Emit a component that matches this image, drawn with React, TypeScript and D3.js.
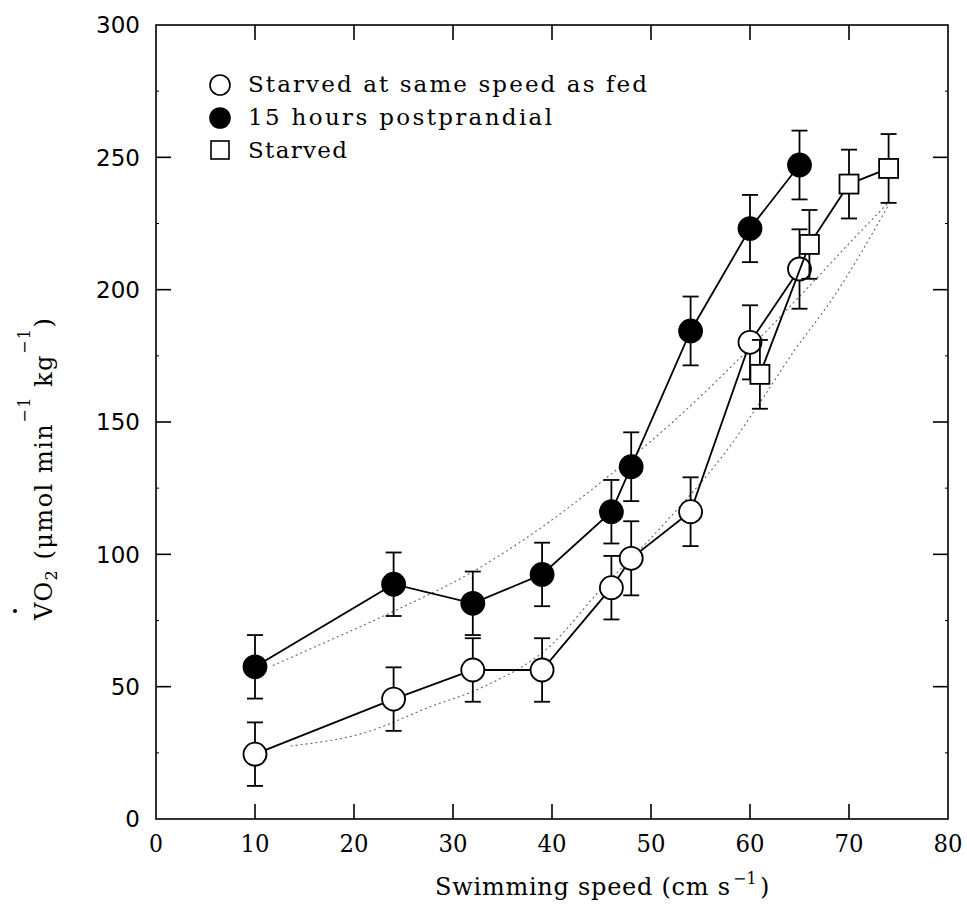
import React from "react";
import * as d3 from "d3";

// ---- data ----
const speedsOpen = [10, 24, 32, 39, 46, 48, 54, 60, 65];
const valuesOpen = [24.5, 45.3, 56.3, 56.3, 87.4, 98.5, 116.1, 180.1, 207.8];
const errOpen = [12, 12, 12, 12, 12, 14, 13, 14, 15];

const speedsFed = [10, 24, 32, 39, 46, 48, 54, 60, 65];
const valuesFed = [57.5, 88.7, 81.5, 92.4, 116.1, 133.1, 184.4, 223.1, 247.1];
const errFed = [12, 12, 12, 12, 12, 13, 13, 12.7, 13];

const speedsStarved = [61, 66, 70, 74];
const valuesStarved = [168, 217.1, 239.9, 245.8];
const errStarved = [13, 13, 13, 13];

const fitFedX = [11.8, 17.6, 24.3, 31.7, 37.1, 46.1, 52.2, 60, 65.4, 69.4, 74];
const fitFedY = [58, 67.6, 79, 92.8, 105.4, 130.7, 150, 178, 199, 215, 233];

const fitStarvedX = [13.6, 20.9, 27.7, 33.1, 40, 44.5, 51.2, 58, 61.3, 64.3, 68.4, 74];
const fitStarvedY = [27.6, 32.4, 42.4, 50, 66, 85, 111, 141, 159, 176, 197, 232];

const xTicks = [0, 10, 20, 30, 40, 50, 60, 70, 80];
const yTicks = [0, 50, 100, 150, 200, 250, 300];
const yMinorTicks = [25, 75, 125, 175, 225, 275];

const legendLabels = ["Starved at same speed as fed", "15 hours postprandial", "Starved"];

export default function App() {
  const x = d3.scaleLinear().domain([0, 80]).range([156, 948]);
  const y = d3.scaleLinear().domain([0, 300]).range([819, 25]);
  const [x0, x1] = x.range();
  const [y0, y1] = y.range();

  const line = d3.line<number[]>().x((d) => x(d[0])).y((d) => y(d[1]));
  const fitLine = d3
    .line<number[]>()
    .x((d) => x(d[0]))
    .y((d) => y(d[1]))
    .curve(d3.curveMonotoneX);

  const zip = (a: number[], b: number[]) => a.map((v, i) => [v, b[i]]);

  const sw = 1.8;
  const capW = 8;
  const r = 11.5;
  const sq = 19;

  const errorBars = (xs: number[], vs: number[], es: number[]) =>
    xs.map((xv, i) => {
      const cx = x(xv);
      const top = y(vs[i] + es[i]);
      const bot = y(vs[i] - es[i]);
      return (
        <g key={"e" + i} stroke="#000" strokeWidth={sw}>
          <line x1={cx} x2={cx} y1={top} y2={bot} />
          <line x1={cx - capW} x2={cx + capW} y1={top} y2={top} />
          <line x1={cx - capW} x2={cx + capW} y1={bot} y2={bot} />
        </g>
      );
    });

  const serif = "'DejaVu Serif', serif";
  const sans = "'DejaVu Sans', sans-serif";

  return (
    <svg
      width={967}
      height={915}
      style={{ position: "absolute", left: 0, top: 0, background: "#fff" }}
    >
      <rect x={0} y={0} width={967} height={915} fill="#fff" />

      {/* fitted dotted curves */}
      <path
        d={fitLine(zip(fitFedX, fitFedY)) || ""}
        fill="none"
        stroke="#666"
        strokeWidth={1.1}
        strokeDasharray="2,3"
      />
      <path
        d={fitLine(zip(fitStarvedX, fitStarvedY)) || ""}
        fill="none"
        stroke="#666"
        strokeWidth={1.1}
        strokeDasharray="2,3"
      />

      {/* frame */}
      <rect x={x0} y={y1} width={x1 - x0} height={y0 - y1} fill="none" stroke="#000" strokeWidth={1.6} />

      {/* x ticks */}
      {xTicks.slice(1, -1).map((t) => (
        <g key={"xt" + t} stroke="#000" strokeWidth={1.6}>
          <line x1={x(t)} x2={x(t)} y1={y0} y2={y0 - 15} />
          <line x1={x(t)} x2={x(t)} y1={y1} y2={y1 + 15} />
        </g>
      ))}
      {xTicks.map((t) => (
        <text
          key={"xl" + t}
          x={x(t)}
          y={852}
          textAnchor="middle"
          fontFamily={serif}
          fontSize={24}
          textLength={t === 0 ? 14 : 29}
          lengthAdjust="spacingAndGlyphs"
          fill="#000"
        >
          {t}
        </text>
      ))}

      {/* y ticks */}
      {yTicks.slice(1, -1).map((t) => (
        <g key={"yt" + t} stroke="#000" strokeWidth={1.6}>
          <line x1={x0} x2={x0 + 15} y1={y(t)} y2={y(t)} />
          <line x1={x1} x2={x1 - 15} y1={y(t)} y2={y(t)} />
        </g>
      ))}
      {yMinorTicks.map((t) => (
        <g key={"ym" + t} stroke="#000" strokeWidth={1}>
          <line x1={x0} x2={x0 + 3} y1={y(t)} y2={y(t)} />
          <line x1={x1} x2={x1 - 3} y1={y(t)} y2={y(t)} />
        </g>
      ))}
      {yTicks.map((t) => (
        <text
          key={"yl" + t}
          x={140}
          y={y(t)}
          dy="0.36em"
          textAnchor="end"
          fontFamily={sans}
          fontSize={23}
          fill="#000"
        >
          {t}
        </text>
      ))}

      {/* series: starved at same speed as fed (open circles) */}
      <path d={line(zip(speedsOpen, valuesOpen)) || ""} fill="none" stroke="#000" strokeWidth={sw} />
      {errorBars(speedsOpen, valuesOpen, errOpen)}
      {speedsOpen.map((s, i) => (
        <circle key={"o" + i} cx={x(s)} cy={y(valuesOpen[i])} r={r} fill="#fff" stroke="#000" strokeWidth={sw} />
      ))}

      {/* series: 15 hours postprandial (filled circles) */}
      <path d={line(zip(speedsFed, valuesFed)) || ""} fill="none" stroke="#000" strokeWidth={sw} />
      {errorBars(speedsFed, valuesFed, errFed)}
      {speedsFed.map((s, i) => (
        <circle key={"f" + i} cx={x(s)} cy={y(valuesFed[i])} r={r} fill="#000" stroke="#000" strokeWidth={sw} />
      ))}

      {/* series: starved (open squares) */}
      <path d={line(zip(speedsStarved, valuesStarved)) || ""} fill="none" stroke="#000" strokeWidth={sw} />
      {errorBars(speedsStarved, valuesStarved, errStarved)}
      {speedsStarved.map((s, i) => (
        <rect
          key={"s" + i}
          x={x(s) - sq / 2}
          y={y(valuesStarved[i]) - sq / 2}
          width={sq}
          height={sq}
          fill="#fff"
          stroke="#000"
          strokeWidth={sw}
        />
      ))}

      {/* legend */}
      <circle cx={220} cy={85} r={10} fill="#fff" stroke="#000" strokeWidth={1.6} />
      <circle cx={220} cy={118} r={10} fill="#000" stroke="#000" strokeWidth={1.6} />
      <rect x={211} y={141} width={18} height={18} fill="#fff" stroke="#000" strokeWidth={1.6} />
      {legendLabels.map((l, i) => (
        <text
          key={"lg" + i}
          x={248}
          y={92 + i * 33}
          fontFamily={serif}
          fontSize={23}
          textLength={[399, 304, 99][i]}
          lengthAdjust="spacing"
          fill="#000"
        >
          {l}
        </text>
      ))}

      {/* x axis label */}
      <text x={435} y={895} fontFamily={serif} fontSize={24} textLength={295} lengthAdjust="spacing" fill="#000">
        Swimming speed (cm s
      </text>
      <text x={733} y={884} fontFamily={serif} fontSize={16} fill="#000">
        −1
      </text>
      <text x={760} y={895} fontFamily={serif} fontSize={24} fill="#000">
        )
      </text>

      {/* y axis label */}
      <circle cx={15} cy={611} r={2} fill="#000" />
      <text transform="translate(52,620) rotate(-90)" fontFamily={serif} fontSize={24} letterSpacing={1.5} fill="#000">
        <tspan>VO</tspan>
        <tspan fontSize={16} dy={5}>2</tspan>
        <tspan dy={-5}> (μmol min</tspan>
        <tspan fontSize={16} dy={-22}>−1</tspan>
        <tspan dy={22}> kg</tspan>
        <tspan fontSize={16} dy={-22}>−1</tspan>
        <tspan dy={22}>)</tspan>
      </text>
    </svg>
  );
}
